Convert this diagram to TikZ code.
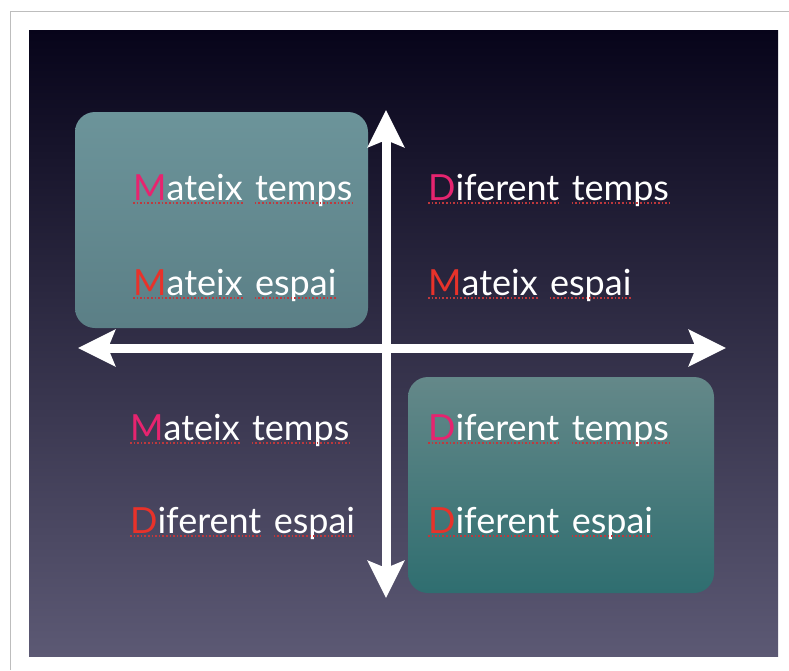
\documentclass[tikz,border=0pt]{standalone}
\usepackage{fontspec}
\setmainfont{Lato}
\usetikzlibrary{arrows.meta}
\definecolor{bgtop}{HTML}{07041A}
\definecolor{bgmid}{HTML}{2A2844}
\definecolor{bgbot}{HTML}{5C5974}
\definecolor{tltop}{HTML}{6C949A}
\definecolor{tlbot}{HTML}{5B7F86}
\definecolor{brtop}{HTML}{648889}
\definecolor{brbot}{HTML}{2F6E70}
\definecolor{pinkL}{HTML}{E6246F}
\definecolor{redL}{HTML}{E8322A}
\definecolor{ulred}{HTML}{C0383C}
\definecolor{framegray}{HTML}{BDBDBD}
\tikzset{
  txt/.style={inner sep=0pt, text=white, font=\fontsize{36}{40}\selectfont},
  ul/.style={ulred, line width=1.6pt, dotted},
  axis/.style={white, line width=9pt, {Stealth[length=37pt,width=36pt,inset=7pt]}-{Stealth[length=37pt,width=36pt,inset=7pt]}},
  quad/.style={draw=none, rounded corners=20pt, inner sep=0pt},
}
\newcommand\twowords[6]{%
  \node[txt,anchor=base west] (#1a) at (#2) {\textcolor{#3}{#4}#5};
  \node[txt,anchor=base west] (#1b) at ([xshift=12pt]#1a.base east) {#6};
  \draw[ul] ([yshift=-3pt]#1a.base west) -- ([yshift=-3pt]#1a.base east);
  \draw[ul] ([yshift=-3pt]#1b.base west) -- ([yshift=-3pt]#1b.base east);
}
\begin{document}
\begin{tikzpicture}[x=1pt,y=-1pt]
\useasboundingbox (0,0) rectangle (789,670);
\fill[white] (0,0) rectangle (789,670);
\draw[framegray, line width=1pt] (10,670) -- (10,11) -- (789,11);
\shade[top color=bgtop, middle color=bgmid, bottom color=bgbot] (29,30) rectangle (778,656);
% quadrant boxes
\node[quad, minimum width=293pt, minimum height=216pt, top color=tltop, bottom color=tlbot] (tl) at (221.5,220) {};
\node[quad, minimum width=306pt, minimum height=216pt, top color=brtop, bottom color=brbot] (br) at (561,485) {};
% axes
\coordinate (W) at (78,348);
\coordinate (E) at (726,348);
\coordinate (N) at (386,110);
\coordinate (S) at (386,598);
\draw[axis] (W) -- (E);
\draw[axis] (N) -- (S);
% texts
\twowords{tlA}{133,200}{pinkL}{M}{ateix}{temps}
\twowords{tlB}{133,295}{redL}{M}{ateix}{espai}
\twowords{trA}{428,200}{pinkL}{D}{iferent}{temps}
\twowords{trB}{428,295}{redL}{M}{ateix}{espai}
\twowords{blA}{130,440}{pinkL}{M}{ateix}{temps}
\twowords{blB}{130,533}{redL}{D}{iferent}{espai}
\twowords{brA}{428,440}{pinkL}{D}{iferent}{temps}
\twowords{brB}{428,533}{redL}{D}{iferent}{espai}
\end{tikzpicture}
\end{document}
